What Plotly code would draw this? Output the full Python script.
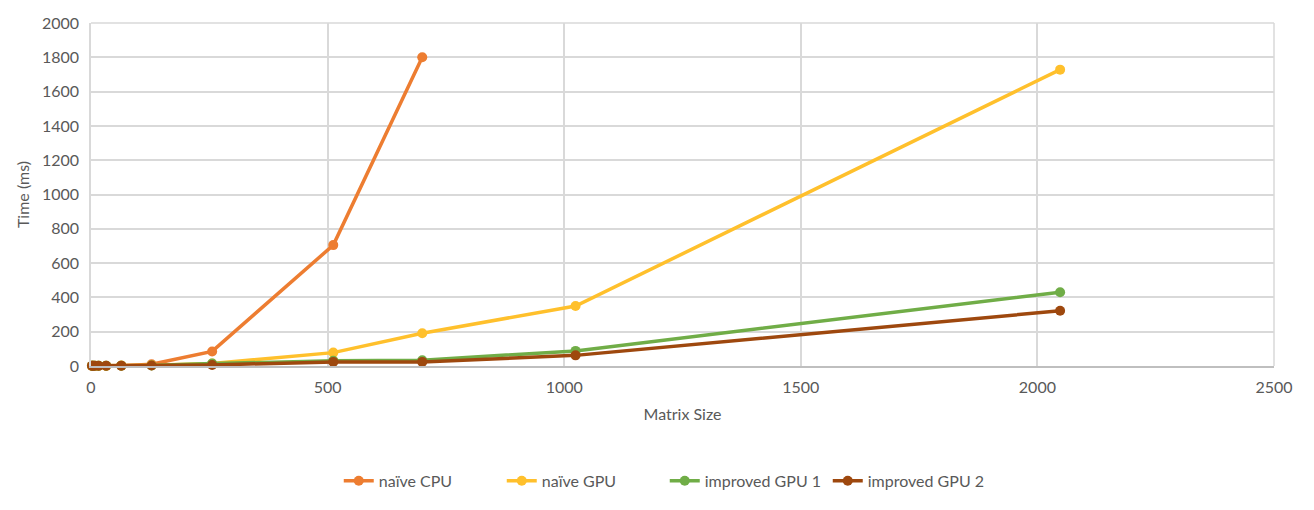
import plotly.graph_objects as go

sizes = [2, 4, 8, 16, 32, 64, 128, 256, 512, 700, 1024, 2048]

cpu_sizes = [2, 4, 8, 16, 32, 64, 128, 256, 512, 700]
naive_cpu = [0, 0, 0, 0, 0, 1, 10, 85, 705, 1800]

naive_gpu = [1, 1, 1, 1, 2, 3, 5, 15, 78, 191, 350, 1728]
improved_gpu1 = [1, 1, 1, 1, 1, 2, 3, 14, 30, 34, 88, 430]
improved_gpu2 = [1, 1, 1, 1, 1, 2, 3, 6, 24, 24, 62, 322]

x_ticks = [0, 500, 1000, 1500, 2000, 2500]
y_ticks = list(range(0, 2001, 200))

series = [
    ("naïve CPU", cpu_sizes, naive_cpu, "#ED7D31"),
    ("naïve GPU", sizes, naive_gpu, "#FFC02C"),
    ("improved GPU 1", sizes, improved_gpu1, "#70AD47"),
    ("improved GPU 2", sizes, improved_gpu2, "#9E480E"),
]

fig = go.Figure()
for name, xs, ys, col in series:
    fig.add_trace(go.Scatter(
        x=xs, y=ys, name=name, mode="lines+markers",
        line=dict(color=col, width=3.5),
        marker=dict(color=col, size=10),
        cliponaxis=False,
    ))

font = dict(family="Lato, 'Open Sans', sans-serif", size=16, color="#595959")
fig.update_layout(
    width=1306, height=502,
    margin=dict(l=83, r=40, t=15, b=140),
    paper_bgcolor="white", plot_bgcolor="white",
    font=font,
    showlegend=True,
    legend=dict(orientation="h", x=0.485, xanchor="center", y=-0.335, yanchor="middle",
                font=dict(size=16, color="#595959"), itemwidth=30, traceorder="normal",
                entrywidth=118, entrywidthmode="pixels"),
    xaxis=dict(
        range=[0, 2500], tickvals=x_ticks, showgrid=True, gridcolor="#D9D9D9", gridwidth=1.5,
        zeroline=False, showline=True, linecolor="#BFBFBF", linewidth=1.5, mirror=False,
        ticks="outside", ticklen=6, tickcolor="rgba(0,0,0,0)", automargin=False,
        title=dict(text="Matrix Size", standoff=14, font=dict(size=16)),
        tickfont=dict(size=16),
    ),
    yaxis=dict(
        range=[0, 2000], tickvals=y_ticks, showgrid=True, gridcolor="#D9D9D9", gridwidth=1.5,
        zeroline=False, showline=True, linecolor="#D9D9D9", linewidth=1.5,
        ticks="outside", ticklen=7, tickcolor="rgba(0,0,0,0)", automargin=False,
        title=dict(text="Time (ms)", standoff=8, font=dict(size=16)),
        tickfont=dict(size=16),
    ),
)
fig.add_shape(type="line", xref="paper", yref="paper", x0=1, x1=1, y0=0, y1=1,
              line=dict(color="#D9D9D9", width=1.5), layer="below")
fig.add_shape(type="line", xref="paper", yref="paper", x0=0, x1=1, y0=1, y1=1,
              line=dict(color="#D9D9D9", width=1.5), layer="below")

fig.write_html("out.html")
